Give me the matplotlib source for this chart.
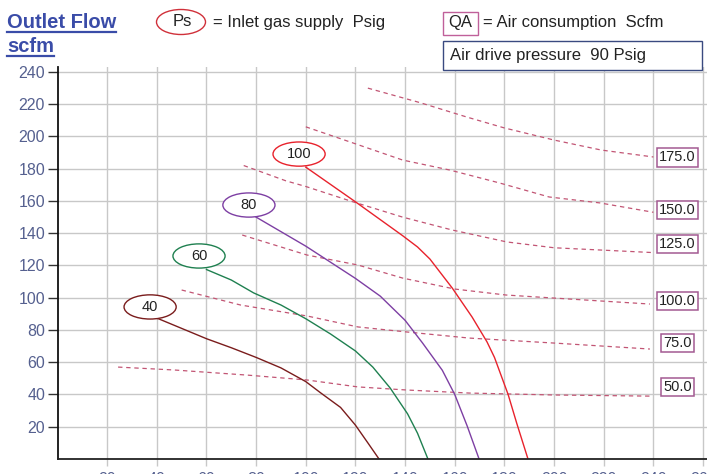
import matplotlib
matplotlib.use('Agg')
import matplotlib.pyplot as plt
from matplotlib.patches import Ellipse, Rectangle
from matplotlib.lines import Line2D

plt.rcParams['font.family'] = ['Liberation Sans', 'DejaVu Sans']

# Outlet flow (scfm) vs outlet pressure, one curve per inlet supply pressure Ps
ps_levels = [40, 60, 80, 100]
ps_colors = ['#7a1c1c', '#1f8050', '#7d3fa3', '#e8222c']

ps40_x = [40, 50, 60, 70, 80, 90, 100, 106, 114, 120, 125, 129.5]
ps40_y = [87.4, 81, 74.6, 69, 63, 56.5, 48, 41, 32, 21, 10, 0]
ps60_x = [60, 70, 79, 90, 100, 110, 120, 127, 134, 141, 145, 149.2]
ps60_y = [117.5, 111, 103, 95.5, 87, 77.5, 67, 57, 44, 28, 16, 0]
ps80_x = [80, 90, 100, 110, 120, 130, 140, 147, 155, 160, 165, 169.8]
ps80_y = [150, 141, 132, 122, 112, 101, 86, 72, 55, 40, 20.5, 0]
ps100_x = [100, 120, 139, 145, 150, 159, 167, 173, 176, 181.5, 185, 189.5]
ps100_y = [181, 159.5, 138.5, 131.5, 124, 106, 88, 72.6, 63, 40, 22, 0]

ps_x = [ps40_x, ps60_x, ps80_x, ps100_x]
ps_y = [ps40_y, ps60_y, ps80_y, ps100_y]
# where each Ps tag sits
ps_tag_x = [37.3, 57.0, 77.1, 97.3]
ps_tag_y = [94.3, 125.9, 157.5, 189.1]

# Air consumption QA (scfm) contours
qa_levels = [175.0, 150.0, 125.0, 100.0, 75.0, 50.0]
qa175_x = [125, 146, 165, 180, 200, 219, 240]
qa175_y = [230, 221, 212, 205.3, 197.8, 191.6, 187.3]
qa150_x = [100, 119, 139, 158, 178, 198, 218.5, 240]
qa150_y = [206, 196, 185.4, 179.2, 171.2, 162.5, 158.8, 153]
qa125_x = [75, 92, 100, 119, 139, 159, 181, 200, 240]
qa125_y = [182, 172.5, 169, 159.5, 150, 142, 134.6, 131, 128]
qa100_x = [74.4, 100.5, 121, 139, 160, 180.6, 200, 238.6]
qa100_y = [138.9, 126.5, 120.3, 112.2, 105.4, 101.7, 99.8, 96.1]
qa75_x = [50, 73.7, 100.5, 121, 140.5, 165.8, 200, 238.6]
qa75_y = [104.8, 95.5, 88.7, 81.9, 78.8, 75, 71.9, 68.2]
qa50_x = [24.4, 47, 76.7, 100.5, 121, 140.5, 165.8, 200, 238.6]
qa50_y = [57, 55.2, 52, 49, 44.7, 42.8, 40.9, 39.7, 39]

qa_x = [qa175_x, qa150_x, qa125_x, qa100_x, qa75_x, qa50_x]
qa_y = [qa175_y, qa150_y, qa125_y, qa100_y, qa75_y, qa50_y]
qa_tag_x = [241.0, 241.0, 241.0, 241.0, 242.6, 242.6]
qa_tag_y = [187.0, 154.4, 133.3, 98.0, 71.9, 44.7]

x_ticks = list(range(20, 261, 20))
y_ticks = list(range(20, 241, 20))

W, H = 707, 474
blue = '#3a4ca8'
tick_col = '#55608f'
qa_col = '#c25574'
box_col = '#a35a92'


def fx(px):
    return px / W


def fy(py):
    return 1 - py / H


fig = plt.figure(figsize=(W / 100, H / 100), dpi=100)
ax = fig.add_axes([fx(57.5), fy(459), 1 - fx(57.5), (459 - 67) / H])
ax.set_xlim(0, 261.6)
ax.set_ylim(0, 243.1)

ax.set_xticks(x_ticks)
ax.set_yticks(y_ticks)
ax.grid(True, color='#c8c8c8', lw=1)
ax.set_axisbelow(True)
for s in ['top', 'right']:
    ax.spines[s].set_visible(False)
ax.spines['left'].set_color('#111111')
ax.spines['bottom'].set_color('#222222')
ax.spines['left'].set_linewidth(1.3)
ax.spines['bottom'].set_linewidth(1.3)
ax.tick_params(axis='y', length=7, width=1, color='#333333', labelsize=11.5,
               labelcolor=tick_col, pad=2)
ax.tick_params(axis='x', length=5, width=1, color='#c8c8c8', labelsize=11.5,
               labelcolor=tick_col, pad=4)

# QA contours
for xs, ys, lvl, tx, ty in zip(qa_x, qa_y, qa_levels, qa_tag_x, qa_tag_y):
    ax.plot(xs, ys, color=qa_col, lw=0.9, ls=(0, (3.5, 3)))
    ax.text(tx + 1.4, ty, f'{lvl:.1f}', fontsize=10.5, color='#222222',
            ha='left', va='center',
            bbox=dict(boxstyle='square,pad=0.15', fc='white', ec=box_col, lw=1.1))

# Ps curves with their tags
for xs, ys, lvl, col, tx, ty in zip(ps_x, ps_y, ps_levels, ps_colors, ps_tag_x, ps_tag_y):
    ax.plot(xs, ys, color=col, lw=1.0)
    ax.add_patch(Ellipse((tx, ty), 21, 15, fc='white', ec=col, lw=1.0, zorder=3))
    ax.text(tx, ty, str(lvl), fontsize=10.5, color='#222222', ha='center',
            va='center', zorder=4)

# header
t1 = fig.text(fx(7), fy(28), 'Outlet Flow', fontsize=14.5, fontweight='bold',
              color=blue, va='baseline')
t2 = fig.text(fx(7), fy(52), 'scfm', fontsize=14.5, fontweight='bold',
              color=blue, va='baseline')
fig.canvas.draw()
for t, uy in [(t1, 32), (t2, 55.5)]:
    bb = t.get_window_extent()
    fig.add_artist(Line2D([bb.x0 / W, bb.x1 / W], [fy(uy), fy(uy)], color=blue, lw=1.6))

fig.add_artist(Ellipse((fx(181), fy(22)), 49 / W, 25 / H, transform=fig.transFigure,
                       fill=False, ec='#d0303a', lw=1.0))
fig.text(fx(182), fy(22), 'Ps', fontsize=12, color='#222222', ha='center', va='center')
fig.text(fx(213), fy(22), '= Inlet gas supply  Psig', fontsize=12, color='#222222',
         va='center')

fig.add_artist(Rectangle((fx(443), fy(35)), 35 / W, 23 / H, transform=fig.transFigure,
                         fill=False, ec='#c0609a', lw=1.0))
fig.text(fx(460.5), fy(23), 'QA', fontsize=12, color='#222222', ha='center', va='center')
fig.text(fx(483), fy(23), '= Air consumption  Scfm', fontsize=12, color='#222222',
         va='center')

fig.add_artist(Rectangle((fx(443), fy(70)), 259 / W, 29 / H, transform=fig.transFigure,
                         fc='white', ec='#3a4a80', lw=1.0, zorder=5))
fig.text(fx(450), fy(55.5), 'Air drive pressure  90 Psig', fontsize=12, color='#222222',
         va='center', zorder=6)

fig.savefig('out.png', dpi=100)
